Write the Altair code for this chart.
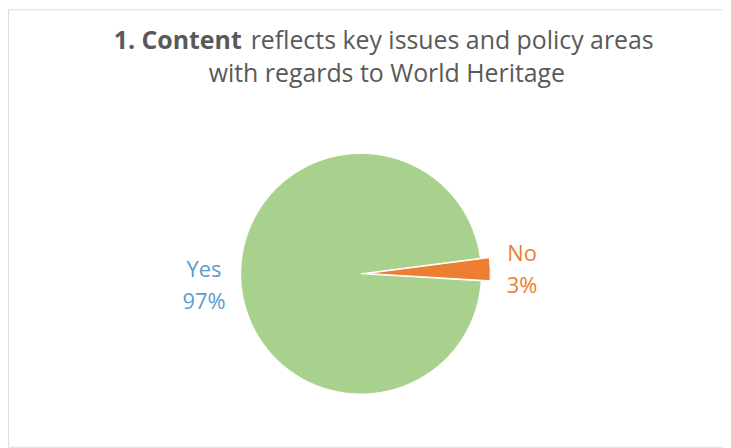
import altair as alt
import pandas as pd
import math

categories = ["No", "Yes"]
values = [3, 97]
labels = ["No\n3%", "Yes\n97%"]
order = [0, 1]

title_bold = "1.  Content"
title_rest = "reflects key issues and policy areas"
title_line2 = "with regards to World Heritage"

df = pd.DataFrame({"cat": categories, "val": values, "label": labels, "ord": order})

start = math.radians(82.6)
theta_scale = alt.Scale(domain=[0, 100], range=[start, start + 2 * math.pi])
color_scale = alt.Scale(domain=["No", "Yes"], range=["#ED7D31", "#A9D18E"])

CX, CY, R = 355, 266, 121
FONT = "Open Sans"

base = alt.Chart(df).encode(
    theta=alt.Theta("val:Q", stack=True, scale=theta_scale),
    order=alt.Order("ord:Q"),
)

shadow = alt.Chart(pd.DataFrame({"v": [1]})).mark_arc(
    radius=R + 3, color="#000000", opacity=0.06).encode(
    theta=alt.Theta("v:Q"), x=alt.value(CX), y=alt.value(CY + 1))

yes_arc = base.mark_arc(radius=R, stroke="white", strokeWidth=1).encode(
    x=alt.value(CX), y=alt.value(CY),
    color=alt.Color("cat:N", scale=color_scale, legend=None),
    opacity=alt.condition(alt.datum.cat == "Yes", alt.value(1), alt.value(0)),
)

no_arc = base.mark_arc(radius=R + 2, stroke="white", strokeWidth=1).encode(
    x=alt.value(CX + 7), y=alt.value(CY - 0.3),
    color=alt.Color("cat:N", scale=color_scale, legend=None),
    opacity=alt.condition(alt.datum.cat == "No", alt.value(1), alt.value(0)),
)

def label_layer(cat, dy, col):
    return base.mark_text(radius=160, font=FONT, fontSize=22, lineBreak="\n",
                          lineHeight=32, baseline="middle", align="center",
                          color=col).encode(
        x=alt.value(CX + 2), y=alt.value(CY + dy),
        text="label:N",
        opacity=alt.condition(alt.datum.cat == cat, alt.value(1), alt.value(0)),
    )

text_no = label_layer("No", -14, "#ED7D31")
text_yes = label_layer("Yes", -9, "#5B9BD5")

tdf = pd.DataFrame({"a": [0]})
t1 = alt.Chart(tdf).mark_text(text=title_bold, font=FONT, fontSize=25, fontWeight="bold",
                              color="#595959", align="right", baseline="middle").encode(
    x=alt.value(235), y=alt.value(32))
t2 = alt.Chart(tdf).mark_text(text=title_rest, font=FONT, fontSize=25,
                              color="#595959", align="left", baseline="middle").encode(
    x=alt.value(244), y=alt.value(32))
t3 = alt.Chart(tdf).mark_text(text=title_line2, font=FONT, fontSize=25,
                              color="#595959", align="center", baseline="middle").encode(
    x=alt.value(381), y=alt.value(65))

chart = alt.layer(shadow, yes_arc, no_arc, text_no, text_yes, t1, t2, t3).properties(
    width=719, height=440, padding=0, autosize="none",
).configure_view(stroke="#D9D9D9", strokeWidth=1.5).configure(background="white")

chart.save("out.html", embed_options={"renderer": "svg", "actions": False})
